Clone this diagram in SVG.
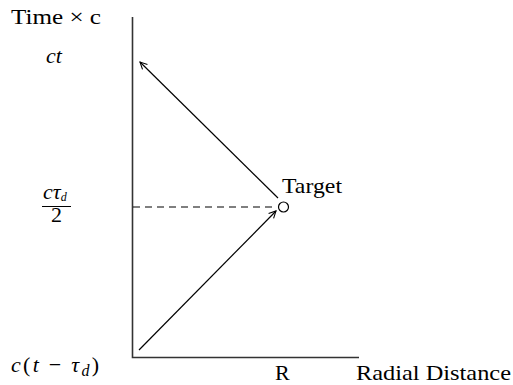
<svg xmlns="http://www.w3.org/2000/svg" width="513" height="385" viewBox="0 0 513 385">
<style>
.t{font-family:"Liberation Serif","DejaVu Serif",serif;font-size:22px;fill:#000}
.m{font-style:italic}
.ln{stroke:#000;stroke-width:1.2;fill:none}
.ax{stroke:#333;stroke-width:1.6;fill:none}
</style>
<defs>
<marker id="ah" viewBox="0 0 10 10" refX="9" refY="5" markerWidth="10" markerHeight="10" markerUnits="userSpaceOnUse" orient="auto">
<path d="M2,1.5 L9,5 L2,8.5" fill="none" stroke="#000" stroke-width="1.1"/>
</marker>
</defs>
<g id="axes">
<path class="ax" d="M132.5,17 V357.5 H359"/>
</g>
<g id="connectors">
<line class="ln" x1="139" y1="350" x2="276" y2="211" marker-end="url(#ah)"/>
<line class="ln" x1="278" y1="198" x2="140" y2="62" marker-end="url(#ah)"/>
<line class="ln" x1="133" y1="207" x2="277" y2="207" stroke-dasharray="7,5"/>
</g>
<g id="target">
<circle cx="283.5" cy="207" r="5" fill="#fff" stroke="#000" stroke-width="1.2"/>
<text class="t" x="282" y="193" textLength="60" lengthAdjust="spacingAndGlyphs">Target</text>
</g>
<g id="labels">
<text class="t" x="11" y="24" textLength="90" lengthAdjust="spacingAndGlyphs">Time × c</text>
<text class="t m" x="46" y="63" font-size="23">ct</text>
<text class="t m" x="43" y="199" font-size="17">cτ<tspan font-size="12" dy="2">d</tspan></text>
<line x1="42" y1="206.5" x2="71" y2="206.5" stroke="#000" stroke-width="1"/>
<text class="t" x="51" y="222" font-size="17">2</text>
<text class="t m" x="11" y="372" font-size="23" textLength="88" lengthAdjust="spacing">c<tspan font-style="normal">(</tspan>t <tspan font-style="normal">−</tspan> τ<tspan font-size="16" dy="4">d</tspan><tspan font-style="normal" dy="-4">)</tspan></text>
<text class="t" x="275" y="380">R</text>
<text class="t" x="356" y="380" textLength="155" lengthAdjust="spacingAndGlyphs">Radial Distance</text>
</g>
</svg>
